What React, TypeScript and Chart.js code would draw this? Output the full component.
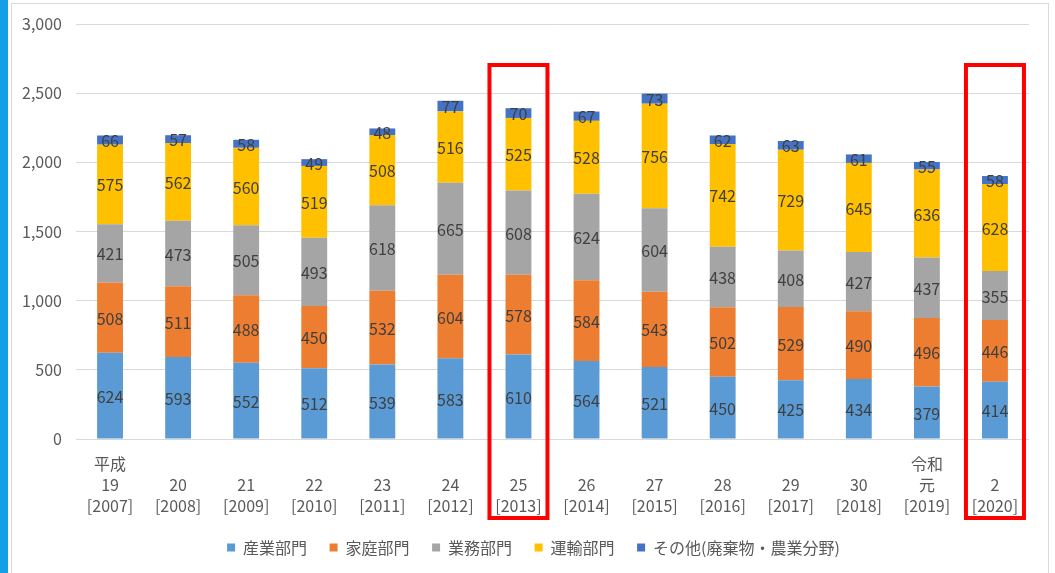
import React, { useEffect, useRef } from "react";
import { Chart, registerables } from "chart.js";

Chart.register(...registerables);

const categories: string[][] = [
  ["平成", "19", "[2007]"],
  ["", "20", "[2008]"],
  ["", "21", "[2009]"],
  ["", "22", "[2010]"],
  ["", "23", "[2011]"],
  ["", "24", "[2012]"],
  ["", "25", "[2013]"],
  ["", "26", "[2014]"],
  ["", "27", "[2015]"],
  ["", "28", "[2016]"],
  ["", "29", "[2017]"],
  ["", "30", "[2018]"],
  ["令和", "元", "[2019]"],
  ["", "2", "[2020]"],
];

const industry = [624, 593, 552, 512, 539, 583, 610, 564, 521, 450, 425, 434, 379, 414];
const household = [508, 511, 488, 450, 532, 604, 578, 584, 543, 502, 529, 490, 496, 446];
const business = [421, 473, 505, 493, 618, 665, 608, 624, 604, 438, 408, 427, 437, 355];
const transport = [575, 562, 560, 519, 508, 516, 525, 528, 756, 742, 729, 645, 636, 628];
const other = [66, 57, 58, 49, 48, 77, 70, 67, 73, 62, 63, 61, 55, 58];

const seriesNames = ["産業部門", "家庭部門", "業務部門", "運輸部門", "その他(廃棄物・農業分野)"];
const seriesColors = ["#5B9BD5", "#ED7D31", "#A5A5A5", "#FFC000", "#4472C4"];
const highlighted = [6, 13];

const FONT = "'Noto Sans CJK JP', 'Noto Sans', sans-serif";

const dataLabelPlugin = {
  id: "stackLabels",
  afterDatasetsDraw(chart: any) {
    const ctx = chart.ctx;
    ctx.save();
    ctx.font = `16px ${FONT}`;
    ctx.fillStyle = "#404040";
    ctx.textAlign = "center";
    ctx.textBaseline = "middle";
    chart.data.datasets.forEach((ds: any, di: number) => {
      const meta = chart.getDatasetMeta(di);
      meta.data.forEach((el: any, i: number) => {
        const y = (el.y + el.base) / 2;
        ctx.fillText(String(ds.data[i]), el.x, y + 1);
      });
    });
    ctx.restore();
  },
};

const legendShiftPlugin = {
  id: "legendShift",
  afterLayout(chart: any) {
    if (chart.legend) {
      chart.legend.left += 19;
      chart.legend.right += 19;
    }
  },
};

const highlightPlugin = {
  id: "highlightBoxes",
  afterDraw(chart: any) {
    const ctx = chart.ctx;
    const xs = chart.scales.x;
    const area = chart.chartArea;
    ctx.save();
    ctx.strokeStyle = "#FF0000";
    ctx.lineWidth = 4;
    highlighted.forEach((i) => {
      const cx = xs.getPixelForValue(i);
      const top = area.top + 41;
      const bottom = area.bottom + 79;
      ctx.strokeRect(cx - 29, top, 58, bottom - top);
    });
    ctx.restore();
  },
};

export default function App() {
  const ref = useRef<HTMLCanvasElement | null>(null);

  useEffect(() => {
    if (!ref.current) return;
    Chart.defaults.font.family = FONT;
    const data = [industry, household, business, transport, other];
    const chart = new Chart(ref.current, {
      type: "bar",
      data: {
        labels: categories,
        datasets: data.map((d, i) => ({
          label: seriesNames[i],
          data: d,
          backgroundColor: seriesColors[i],
          borderWidth: 0,
          barPercentage: 0.38,
          categoryPercentage: 1,
        })),
      },
      options: {
        animation: false,
        responsive: true,
        maintainAspectRatio: false,
        devicePixelRatio: 1,
        layout: { padding: { left: 0, right: 26, top: 24, bottom: 7.5 } },
        plugins: {
          legend: {
            position: "bottom",
            labels: {
              boxWidth: 8,
              boxHeight: 8,
              padding: 22.5,
              color: "#595959",
              font: { size: 16, family: FONT },
            },
          },
          tooltip: { enabled: false },
        },
        scales: {
          x: {
            stacked: true,
            grid: { display: false, drawTicks: false },
            border: { display: false },
            ticks: {
              color: "#595959",
              font: { size: 16, family: FONT, lineHeight: 1.3 },
              padding: 15,
              maxRotation: 0,
              autoSkip: false,
            },
            afterFit: (s: any) => {
              s.height = 78;
            },
          },
          y: {
            stacked: true,
            min: 0,
            max: 3000,
            grid: { color: "#D9D9D9", lineWidth: 1, drawTicks: false },
            border: { display: false },
            ticks: {
              stepSize: 500,
              color: "#595959",
              font: { size: 16, family: FONT },
              padding: 14,
              callback: (v: any) => Number(v).toLocaleString("en-US"),
            },
            afterFit: (s: any) => {
              s.width = 76;
            },
          },
        },
      },
      plugins: [dataLabelPlugin, legendShiftPlugin, highlightPlugin],
    });
    return () => chart.destroy();
  }, []);

  return (
    <div style={{ position: "fixed", left: 0, top: 0, width: 1055, height: 573, background: "#FFFFFF", overflow: "hidden" }}>
      <div style={{ position: "absolute", left: 0, top: 0, width: 8, height: 573, background: "#14A0E6" }} />
      <div style={{ position: "absolute", left: 11, top: 3, width: 1036, height: 600, border: "1px solid #D9D9D9" }} />
      <div style={{ position: "absolute", left: 0, top: 0, width: 1055, height: 573 }}>
        <canvas ref={ref} />
      </div>
    </div>
  );
}
